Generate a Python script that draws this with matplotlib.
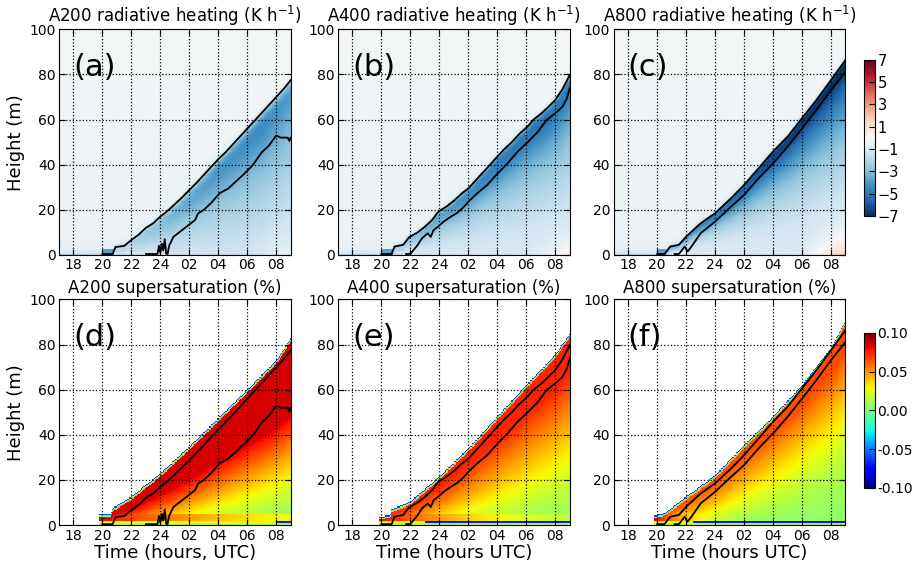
import numpy as np
import matplotlib.pyplot as plt

# time axis: hours after 00 UTC of first day (24 = midnight)
hour_ticks = [18, 20, 22, 24, 26, 28, 30, 32]
hour_labels = ['18', '20', '22', '24', '02', '04', '06', '08']
height_ticks = [0, 20, 40, 60, 80, 100]

# black contour lines (upper / lower), time in hours, height in m
a200_upper_t = [20.0, 20.7, 20.9, 21.5, 22.0, 22.5, 23.0, 23.5, 24.0, 24.5, 25.0, 25.5, 26.0, 26.5,
                27.0, 27.5, 28.0, 28.5, 29.0, 29.5, 30.0, 30.5, 31.0, 31.5, 32.0, 32.5, 33.0]
a200_upper_z = [0.4, 0.4, 3.5, 4.0, 6.6, 9.0, 12.0, 14.0, 17.0, 19.5, 22.5, 25.5, 28.8, 32.0,
                35.5, 39.0, 42.4, 45.5, 49.0, 52.5, 56.0, 59.5, 63.0, 66.5, 70.0, 73.5, 77.5]
a200_lower_t = [23.0, 23.8, 23.9, 24.0, 24.1, 24.2, 24.3, 24.4, 24.5, 24.6, 24.9, 25.2, 25.5, 25.8,
                26.1, 26.4, 26.6, 27.0, 27.5, 28.1, 28.7, 29.2, 29.8, 30.4, 31.0, 31.5, 32.0, 32.3,
                32.8, 32.9, 33.0]
a200_lower_z = [0.4, 0.4, 4.0, 1.0, 5.0, 2.0, 7.0, 0.5, 0.5, 4.0, 8.0, 9.5, 11.0, 12.5,
                14.0, 15.5, 18.4, 20.0, 23.0, 27.4, 29.5, 32.5, 36.0, 40.0, 45.5, 48.5, 53.0, 52.0,
                52.0, 50.5, 52.0]

a400_upper_t = [20.0, 20.7, 20.9, 21.5, 21.9, 22.5, 23.0, 23.5, 23.9, 24.5, 25.0, 25.5, 26.0, 26.5,
                27.0, 27.5, 28.0, 28.5, 29.0, 29.5, 30.1, 30.5, 31.0, 31.5, 32.0, 32.5, 33.0]
a400_upper_z = [0.4, 0.4, 3.7, 4.5, 7.8, 10.0, 12.5, 15.5, 19.0, 21.5, 24.0, 27.0, 29.5, 33.0,
                36.5, 40.0, 43.6, 47.0, 50.0, 53.5, 57.0, 60.0, 62.5, 65.5, 68.7, 73.5, 79.8]
a400_lower_t = [21.7, 22.0, 22.5, 22.8, 23.2, 23.4, 23.6, 23.9, 24.3, 24.8, 25.2, 25.7, 26.0, 26.6,
                27.3, 28.0, 28.7, 29.4, 30.1, 30.8, 31.4, 32.0, 32.5, 32.8, 33.0]
a400_lower_z = [0.4, 0.5, 4.4, 7.4, 9.6, 8.0, 11.0, 12.5, 14.8, 17.0, 18.5, 21.4, 23.6, 27.3,
                31.0, 36.0, 40.6, 45.8, 50.0, 54.6, 59.8, 62.8, 65.7, 69.4, 73.9]

a800_upper_t = [20.0, 20.5, 20.9, 21.5, 22.0, 23.0, 24.0, 25.1, 26.0, 27.0, 28.0, 29.0, 30.0,
                31.0, 32.0, 33.0]
a800_upper_z = [0.4, 0.4, 3.7, 4.5, 8.1, 14.0, 18.5, 25.1, 31.0, 38.4, 45.8, 52.4, 60.6,
                68.7, 77.5, 86.4]
a800_lower_t = [21.2, 21.5, 21.9, 22.1, 22.4, 23.0, 24.0, 25.1, 26.0, 27.0, 28.0, 29.0, 30.0,
                31.0, 32.0, 33.0]
a800_lower_z = [0.4, 0.4, 3.7, 1.5, 4.0, 9.6, 14.8, 21.4, 26.6, 34.0, 40.6, 48.0, 56.0,
                64.3, 73.1, 81.2]

# top of the supersaturation field (white above)
a200_edge_t = [19.8, 20.6, 20.7, 22.0, 24.0, 26.0, 28.0, 30.0, 32.0, 33.0]
a200_edge_z = [4.5, 4.5, 7.4, 12.6, 23.0, 34.8, 47.4, 60.0, 73.0, 82.5]
a400_edge_t = [19.85, 20.6, 20.7, 22.0, 24.0, 26.0, 28.0, 30.0, 32.0, 33.0]
a400_edge_z = [3.5, 4.5, 7.0, 10.4, 21.5, 34.0, 48.0, 62.0, 75.5, 84.7]
a800_edge_t = [19.8, 20.5, 21.4, 22.0, 24.0, 26.0, 28.0, 30.0, 32.0, 33.0]
a800_edge_z = [4.1, 5.2, 9.6, 12.6, 22.0, 35.5, 48.0, 62.0, 78.5, 90.4]

# peak radiative cooling below fog top (K/h) at a few times
cool_t = [20.0, 24.0, 28.0, 31.0, 33.0]
a200_cool = [4.0, 4.5, 5.0, 5.0, 4.2]
a400_cool = [4.2, 5.2, 5.8, 5.8, 5.4]
a800_cool = [4.5, 6.0, 7.0, 7.2, 7.2]

names = ['A200', 'A400', 'A800']
letters_top = ['(a)', '(b)', '(c)']
letters_bot = ['(d)', '(e)', '(f)']
xlabels = ['Time (hours, UTC)', 'Time (hours UTC)', 'Time (hours UTC)']

t_grid = np.arange(17.0, 33.001, 0.05)
z_grid = np.arange(0.0, 100.001, 0.5)
T, Z = np.meshgrid(t_grid, z_grid)


def heating_field(top_t, top_z, cool, depth_frac, ramp, warm):
    top = np.interp(T, top_t, top_z)
    amp = np.interp(T, cool_t, cool)
    field = -0.45 + 0.003 * Z
    d = top - Z
    fog = (T >= top_t[0])
    inside = fog & (d >= 0)
    scale = depth_frac * np.maximum(top, 5)
    prof = (1 - np.exp(-(d + 0.8) / ramp)) * np.exp(-d / scale)
    field = np.where(inside, -0.6 - amp * prof, field)
    above = fog & (d < 0)
    field = np.where(above, field - 0.4 * amp * np.exp(d / 1.0), field)
    # ground cooling before the fog forms
    field = np.where(~fog, field - 1.3 * np.exp(-Z / 1.5), field)
    start = (T >= top_t[0]) & (T <= top_t[1] + 0.1) & (Z <= 2.5)
    field = np.where(start, -3.8, field)
    # weak warming near the ground late in the morning
    field = field + warm * np.clip((T - 30.0) / 3.0, 0, 1) * np.exp(-Z / 9.0)
    return field


def supersat_field(edge_t, edge_z, smax, r0, p0, p1, strip_tau, blue_from):
    edge = np.interp(T, edge_t, edge_z)
    inside = (T >= edge_t[0]) & (Z <= edge)
    r = Z / edge
    p = np.interp(T, [20.0, 33.0], [p0, p1])
    s = 0.005 + (smax - 0.005) * np.minimum(1.0, r / r0) ** p
    d = edge - Z
    s = np.where(d < 1.5, 0.045, s)
    s = np.where(d < 1.0, 0.0, s)
    s = np.where(d < 0.5, -0.06, s)
    strip = (Z >= 2.0) & (Z <= 4.5) & (d >= 1.0)
    s = np.where(strip, np.maximum(s, 0.08 * np.exp(-(T - 20.0) / strip_tau)), s)
    ground = Z < 2.0
    s = np.where(ground & (d >= 1.0), 0.02, s)
    line = (Z >= 1.0) & (Z < 2.0) & (T >= blue_from)
    s = np.where(line, -0.07, s)
    return np.where(inside, s, np.nan)


heat_fields = [
    heating_field(a200_upper_t, a200_upper_z, a200_cool, 0.55, 3.0, 1.0),
    heating_field(a400_upper_t, a400_upper_z, a400_cool, 0.42, 2.0, 1.5),
    heating_field(a800_upper_t, a800_upper_z, a800_cool, 0.35, 1.0, 3.0),
]
sat_fields = [
    supersat_field(a200_edge_t, a200_edge_z, 0.085, 0.6, 0.3, 1.4, 12.0, 32.0),
    supersat_field(a400_edge_t, a400_edge_z, 0.075, 0.8, 0.3, 1.3, 8.0, 23.0),
    supersat_field(a800_edge_t, a800_edge_z, 0.065, 0.85, 0.4, 1.8, 3.0, 22.5),
]
lines = [
    (a200_upper_t, a200_upper_z, a200_lower_t, a200_lower_z),
    (a400_upper_t, a400_upper_z, a400_lower_t, a400_lower_z),
    (a800_upper_t, a800_upper_z, a800_lower_t, a800_lower_z),
]

fig = plt.figure(figsize=(9.16, 5.64), dpi=100)
lefts = [0.0644, 0.369, 0.670]
w, h = 0.253, 0.400


def style_axes(ax):
    ax.set_xlim(17, 33)
    ax.set_ylim(0, 100)
    ax.set_xticks(hour_ticks)
    ax.set_xticklabels(hour_labels)
    ax.set_yticks(height_ticks)
    ax.tick_params(direction='in', labelsize=10, top=True, right=True, length=4, pad=2.5)
    ax.grid(True, color='k', linestyle=':', linewidth=0.9)
    ax.set_axisbelow(False)


for i in range(3):
    ax = fig.add_axes([lefts[i], 0.548, w, h])
    m1 = ax.pcolormesh(T, Z, heat_fields[i], cmap='RdBu_r', vmin=-7, vmax=7, shading='nearest')
    ut, uz, lt, lz = lines[i]
    ax.plot(ut, uz, color='k', lw=1.3)
    ax.plot(lt, lz, color='k', lw=1.3)
    style_axes(ax)
    ax.set_title(names[i] + ' radiative heating (K h$^{-1}$)', fontsize=12, pad=5)
    ax.text(0.06, 0.83, letters_top[i], transform=ax.transAxes, fontsize=22, va='center')
    if i == 0:
        ax.set_ylabel('Height (m)', fontsize=13, labelpad=3)

    ax = fig.add_axes([lefts[i], 0.069, w, h])
    m2 = ax.pcolormesh(T, Z, sat_fields[i], cmap='jet', vmin=-0.1, vmax=0.1, shading='nearest')
    ax.plot(ut, uz, color='k', lw=1.3)
    ax.plot(lt, lz, color='k', lw=1.3)
    style_axes(ax)
    ax.set_title(names[i] + ' supersaturation (%)', fontsize=12, pad=5)
    ax.text(0.06, 0.83, letters_bot[i], transform=ax.transAxes, fontsize=22, va='center')
    ax.set_xlabel(xlabels[i], fontsize=13, labelpad=1)
    if i == 0:
        ax.set_ylabel('Height (m)', fontsize=13, labelpad=3)

cax1 = fig.add_axes([0.943, 0.617, 0.012, 0.277])
cb1 = fig.colorbar(m1, cax=cax1, ticks=[-7, -5, -3, -1, 1, 3, 5, 7])
cb1.ax.tick_params(labelsize=10.5, direction='in', length=4, pad=2)
cax2 = fig.add_axes([0.943, 0.135, 0.012, 0.275])
cb2 = fig.colorbar(m2, cax=cax2, ticks=[-0.1, -0.05, 0.0, 0.05, 0.1], format='%.2f')
cb2.ax.tick_params(labelsize=10, direction='in', length=4, pad=2)

fig.savefig('out.png', dpi=100)
